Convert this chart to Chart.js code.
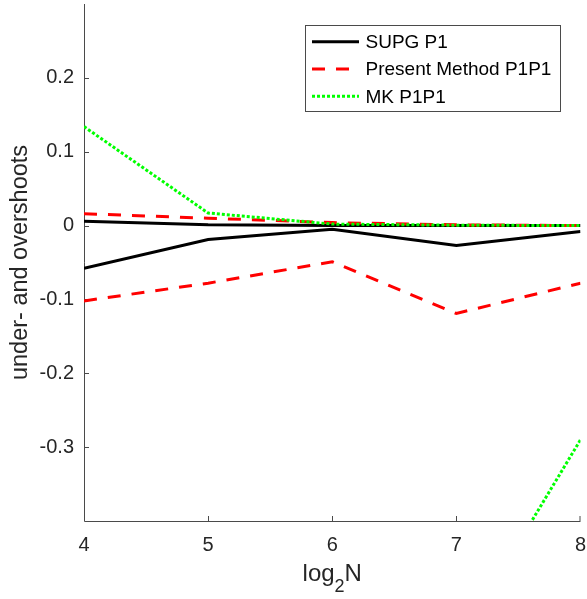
<!DOCTYPE html>
<html>
<head>
<meta charset="utf-8">
<script src="https://cdn.jsdelivr.net/npm/chart.js@4.4.0/dist/chart.umd.min.js"></script>
<style>
  html, body { margin: 0; padding: 0; background: #fff; }
  #wrap { width: 587px; height: 599px; position: relative; }
</style>
</head>
<body>
<div id="wrap"><canvas id="plot"></canvas></div>
<script>
// x = log2 N, one value per mesh level
var log2N = [4, 5, 6, 7, 8];

// max overshoot / min undershoot per method
var supgOver  = [0.006, 0.001, 0.0, 0.0, 0.0];
var supgUnder = [-0.058, -0.019, -0.005, -0.027, -0.008];
var presOver  = [0.016, 0.010, 0.004, 0.001, 0.0];
var presUnder = [-0.102, -0.078, -0.049, -0.119, -0.078];
var mkOver    = [0.134, 0.017, 0.002, 0.0005, 0.0];
var mkUnder   = [-1.2, -0.9, -0.75, -0.57, -0.29];

var seriesNames = ['SUPG P1', 'Present Method P1P1', 'MK P1P1'];
var xTicks = [4, 5, 6, 7, 8];
var xTickLabels = ['4', '5', '6', '7', '8'];
var yTicks = [-0.3, -0.2, -0.1, 0, 0.1, 0.2];
var yTickLabels = ['-0.3', '-0.2', '-0.1', '0', '0.1', '0.2'];

var FONT = "'Liberation Sans', Arial, Helvetica, sans-serif";
var AXIS_COLOR = '#4a4a4a';
var TEXT_COLOR = '#262626';

var styles = [
    { color: '#000000', dash: [],       width: 3, order: 3 },
    { color: '#ff0000', dash: [13, 11], width: 3, order: 2 },
    { color: '#00ff00', dash: [3, 2],   width: 3, order: 1 }
];

function pairs(ys) {
    return log2N.map(function(x, i) { return { x: x, y: ys[i] }; });
}

function makeSet(label, ys, st) {
    return {
        label: label,
        data: pairs(ys),
        borderColor: st.color,
        backgroundColor: st.color,
        borderWidth: st.width,
        borderDash: st.dash,
        borderCapStyle: 'butt',
        pointRadius: 0,
        tension: 0,
        fill: false,
        clip: 0,
        order: st.order
    };
}

var datasets = [
    makeSet(seriesNames[0], supgOver, styles[0]),
    makeSet(seriesNames[0], supgUnder, styles[0]),
    makeSet(seriesNames[1], presOver, styles[1]),
    makeSet(seriesNames[1], presUnder, styles[1]),
    makeSet(seriesNames[2], mkOver, styles[2]),
    makeSet(seriesNames[2], mkUnder, styles[2])
];

// matlab-ish axes: left/bottom lines, inward ticks
var axesPlugin = {
    id: 'matlabAxes',
    beforeDatasetsDraw: function(chart) {
        var ctx = chart.ctx, a = chart.chartArea;
        var xs = chart.scales.x, ys = chart.scales.y;
        ctx.save();
        ctx.strokeStyle = AXIS_COLOR;
        ctx.lineWidth = 1;
        ctx.beginPath();
        ctx.moveTo(a.left + 0.5, a.top);
        ctx.lineTo(a.left + 0.5, a.bottom + 0.5);
        ctx.lineTo(a.right, a.bottom + 0.5);
        xTicks.forEach(function(v) {
            var px = Math.round(xs.getPixelForValue(v)) + 0.5;
            if (px > a.right) px = a.right - 0.5;
            ctx.moveTo(px, a.bottom);
            ctx.lineTo(px, a.bottom - 5);
        });
        yTicks.forEach(function(v) {
            var py = Math.round(ys.getPixelForValue(v)) + 0.5;
            ctx.moveTo(a.left, py);
            ctx.lineTo(a.left + 5, py);
        });
        ctx.stroke();
        ctx.restore();
    },
    afterDraw: function(chart) {
        var ctx = chart.ctx, a = chart.chartArea;
        ctx.save();

        // x title: log2N with subscript
        ctx.fillStyle = TEXT_COLOR;
        ctx.textBaseline = 'alphabetic';
        ctx.textAlign = 'left';
        var big = '24px ' + FONT, small = '18px ' + FONT;
        ctx.font = big;
        var w1 = ctx.measureText('log').width;
        var w3 = ctx.measureText('N').width;
        ctx.font = small;
        var w2 = ctx.measureText('2').width;
        var cx = (a.left + a.right) / 2;
        var x0 = cx - (w1 + w2 + w3) / 2;
        var base = 581;
        ctx.font = big;
        ctx.fillText('log', x0, base);
        ctx.font = small;
        ctx.fillText('2', x0 + w1, base + 11);
        ctx.font = big;
        ctx.fillText('N', x0 + w1 + w2, base);

        // y title
        ctx.save();
        ctx.translate(27, (a.top + a.bottom) / 2);
        ctx.rotate(-Math.PI / 2);
        ctx.textAlign = 'center';
        ctx.font = '23.5px ' + FONT;
        ctx.fillText('under- and overshoots', 0, 0);
        ctx.restore();

        // legend box
        var bx = 305.5, by = 25.5, bw = 255, bh = 86;
        ctx.fillStyle = '#ffffff';
        ctx.fillRect(bx, by, bw, bh);
        ctx.strokeStyle = AXIS_COLOR;
        ctx.lineWidth = 1;
        ctx.strokeRect(bx, by, bw, bh);
        var rowY = [41.7, 69, 96.3];
        ctx.font = '19px ' + FONT;
        ctx.textBaseline = 'middle';
        ctx.textAlign = 'left';
        for (var i = 0; i < seriesNames.length; i++) {
            var st = styles[i];
            ctx.save();
            ctx.strokeStyle = st.color;
            ctx.lineWidth = st.width;
            ctx.lineCap = 'butt';
            ctx.setLineDash(st.dash);
            ctx.beginPath();
            ctx.moveTo(312, rowY[i]);
            ctx.lineTo(359, rowY[i]);
            ctx.stroke();
            ctx.restore();
            ctx.fillStyle = '#000000';
            ctx.fillText(seriesNames[i], 365.5, rowY[i] + 1);
        }
        ctx.restore();
    }
};

Chart.defaults.font.family = FONT;

var chart = new Chart(document.getElementById('plot').getContext('2d'), {
    type: 'line',
    data: { datasets: datasets },
    options: {
        responsive: true,
        maintainAspectRatio: false,
        animation: false,
        events: [],
        layout: { padding: { top: 4, right: 6.5, left: 0, bottom: 0 } },
        plugins: {
            legend: { display: false },
            tooltip: { enabled: false },
            title: { display: false }
        },
        scales: {
            x: {
                type: 'linear',
                min: 4,
                max: 8,
                grid: { display: false, drawTicks: false },
                border: { display: false },
                afterFit: function(s) {
                    s.height = 78;
                    s.paddingLeft = 0;
                    s.paddingRight = 0;
                },
                afterBuildTicks: function(s) {
                    s.ticks = xTicks.map(function(v) { return { value: v }; });
                },
                ticks: {
                    padding: 12,
                    color: TEXT_COLOR,
                    font: { size: 20 },
                    maxRotation: 0,
                    callback: function(v, i) { return xTickLabels[i]; }
                }
            },
            y: {
                type: 'linear',
                min: -0.4,
                max: 0.3,
                grid: { display: false, drawTicks: false },
                border: { display: false },
                afterFit: function(s) {
                    s.width = 84;
                    s.paddingTop = 0;
                    s.paddingBottom = 0;
                },
                afterBuildTicks: function(s) {
                    s.ticks = yTicks.map(function(v) { return { value: v }; });
                },
                ticks: {
                    padding: 10,
                    color: TEXT_COLOR,
                    font: { size: 20 },
                    callback: function(v, i) { return yTickLabels[i]; }
                }
            }
        }
    },
    plugins: [axesPlugin]
});
</script>
</body>
</html>
